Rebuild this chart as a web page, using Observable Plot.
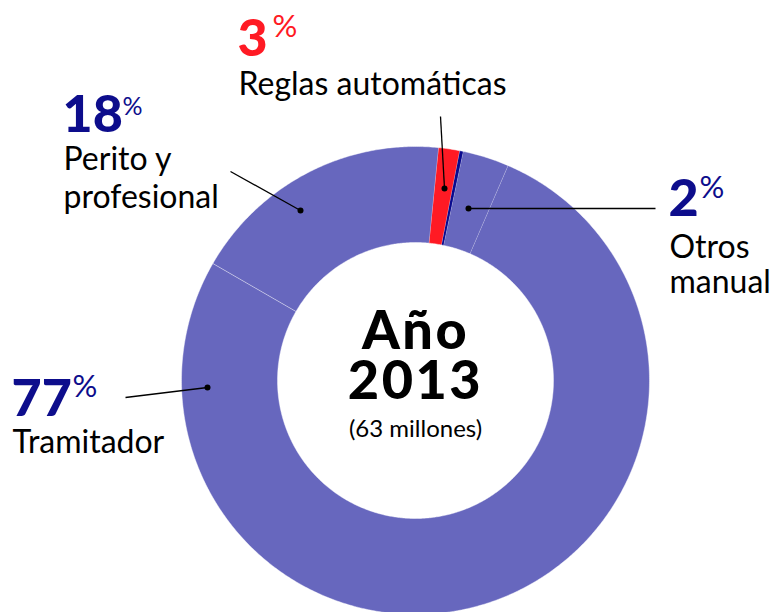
<!DOCTYPE html>
<html>
<head>
<meta charset="utf-8">
<script src="https://cdn.jsdelivr.net/npm/d3@7"></script>
<script src="https://cdn.jsdelivr.net/npm/@observablehq/plot@0.6"></script>
<style>
  html, body { margin: 0; padding: 0; background: #fff; }
  #chart svg { display: block; }
</style>
</head>
<body>
<div id="chart"></div>
<script>
// ---- Data ----
const categories = ["Perito y profesional", "Reglas automáticas", "Otras reglas", "Otros manual", "Tramitador"];
const shares = [18.25, 1.45, 0.25, 3.2, 76.85];          // drawn slice shares (%)
const sliceColors = ["#6767be", "#ff1a24", "#0a0a8e", "#6767be", "#6767be"];

const labelPct = ["18", "3", "2", "77"];
const labelLines = [["Perito y", "profesional"], ["Reglas automáticas"], ["Otros", "manual"], ["Tramitador"]];
const labelNumColors = ["#0d0d8c", "#ff1a24", "#0d0d8c", "#0d0d8c"];

const centerTitle = ["Año", "2013"];
const centerSub = "(63 millones)";

// ---- Layout (positions/sizes, kept apart from data) ----
const W = 778, H = 612;
const cx = 415, cy = 380, rOuter = 234, rInner = 138, startDeg = -60;
const FONT = "Lato, 'Open Sans', sans-serif";
const numPos = [{x: 62, y: 131}, {x: 237, y: 55}, {x: 668, y: 215}, {x: 11, y: 415}];
const pctPos = [{x: 122, y: 114, s: 25}, {x: 272, y: 36, s: 31}, {x: 699, y: 197, s: 31}, {x: 72, y: 396, s: 31}];
const textPos = [[{x: 63, y: 169}, {x: 63, y: 207}], [{x: 238, y: 94}], [{x: 669, y: 257}, {x: 669, y: 292}], [{x: 12, y: 452}]];
const centerY = [348, 398], subY = 436;
const leaders = [
  {x1: 230, y1: 171, x2: 300, y2: 210},
  {x1: 440, y1: 116, x2: 444, y2: 188},
  {x1: 655, y1: 208, x2: 468, y2: 208},
  {x1: 125, y1: 397, x2: 207, y2: 387}
];

// ---- Build slice polygons from the shares ----
const total = d3.sum(shares);
const pts = [];
let acc = startDeg;
const toXY = (deg, r) => {
  const a = deg * Math.PI / 180;
  return {x: cx + r * Math.sin(a), y: cy - r * Math.cos(a)};
};
categories.forEach((cat, i) => {
  const span = shares[i] / total * 360;
  const a0 = acc, a1 = acc + span;
  acc = a1;
  const n = Math.max(2, Math.ceil(span / 0.5));
  const outer = d3.range(n + 1).map(k => a0 + (a1 - a0) * k / n);
  outer.forEach(a => pts.push({cat, color: sliceColors[i], ...toXY(a, rOuter)}));
  outer.slice().reverse().forEach(a => pts.push({cat, color: sliceColors[i], ...toXY(a, rInner)}));
});

const nums = labelPct.map((t, i) => ({t, color: labelNumColors[i], ...numPos[i]}));
const pcts = labelPct.map((t, i) => ({t: "%", color: labelNumColors[i], ...pctPos[i]}));
const texts = labelLines.flatMap((lines, i) => lines.map((t, j) => ({t, ...textPos[i][j]})));
const centers = centerTitle.map((t, i) => ({t, y: centerY[i]}));

const chart = Plot.plot({
  width: W, height: H, margin: 0,
  x: {domain: [0, W], range: [0, W], axis: null},
  y: {domain: [0, H], range: [0, H], axis: null},
  color: {type: "identity"},
  marks: [
    Plot.line(pts, {x: "x", y: "y", z: "cat", fill: "color", stroke: "white", strokeWidth: 0.8, strokeOpacity: 0.55, curve: "linear"}),
    Plot.link(leaders, {x1: "x1", y1: "y1", x2: "x2", y2: "y2", stroke: "black", strokeWidth: 1.3}),
    Plot.dot(leaders, {x: "x2", y: "y2", r: 3, fill: "black"}),
    Plot.text(nums, {x: "x", y: "y", text: "t", fill: "color", fontSize: 52, fontWeight: 900, textAnchor: "start", lineAnchor: "bottom", fontFamily: FONT}),
    Plot.text(pcts, {x: "x", y: "y", text: "t", fill: "color", fontSize: d => d.s, fontWeight: 400, textAnchor: "start", lineAnchor: "bottom", fontFamily: FONT}),
    Plot.text(texts, {x: "x", y: "y", text: "t", fill: "black", fontSize: 32, fontWeight: 400, textAnchor: "start", lineAnchor: "bottom", fontFamily: FONT}),
    Plot.text(centers, {x: () => cx, y: "y", text: "t", fill: "black", fontSize: 54, fontWeight: 900, textAnchor: "middle", lineAnchor: "bottom", fontFamily: FONT, className: "center-title"}),
    Plot.text([centerSub], {x: () => cx, y: () => subY, text: d => d, fill: "black", fontSize: 24, fontWeight: 400, textAnchor: "middle", lineAnchor: "bottom", fontFamily: FONT})
  ]
});
d3.select(chart).selectAll(".center-title text").style("letter-spacing", "2.5px");
document.getElementById("chart").appendChild(chart);
</script>
</body>
</html>
